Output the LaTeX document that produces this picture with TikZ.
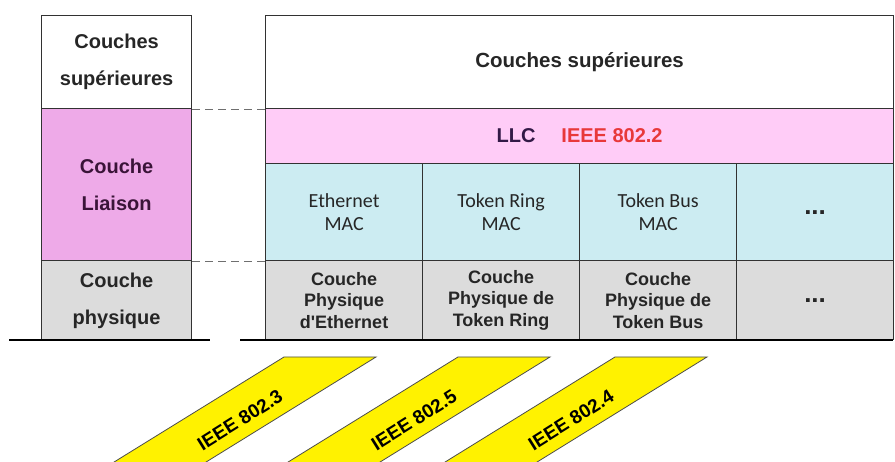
\documentclass[tikz,border=0pt]{standalone}
\usepackage{fontspec}
\setmainfont{Liberation Sans}
\newfontfamily\macfont{Carlito}

\definecolor{liaisonpink}{RGB}{238,170,232}
\definecolor{llcpink}{RGB}{255,204,247}
\definecolor{macblue}{RGB}{204,236,242}
\definecolor{phygray}{RGB}{220,220,220}
\definecolor{ieeered}{RGB}{232,56,58}
\definecolor{llctext}{RGB}{50,25,70}
\definecolor{liaisontext}{RGB}{58,20,56}
\definecolor{edge}{RGB}{50,50,50}

\tikzset{
  cell/.style={draw=edge, line width=1.2pt, anchor=north west, inner sep=0pt, align=center, text=black!85},
  leftcell/.style={cell, minimum width=150pt, font=\bfseries\fontsize{20}{37}\selectfont},
  bigcell/.style={cell, minimum width=628pt, font=\bfseries\fontsize{20.5}{24}\selectfont},
  maccell/.style={cell, fill=macblue, minimum width=157pt, minimum height=97pt, font=\macfont\fontsize{20}{23}\selectfont},
  phycell/.style={cell, fill=phygray, minimum width=157pt, minimum height=79pt, font=\bfseries\fontsize{18}{21.5}\selectfont},
  etc/.style={font=\bfseries\fontsize{26}{26}\selectfont},
  ieeeband/.style={fill=yellow, draw=black!70, line width=0.8pt},
  ieeelabel/.style={rotate=32, font=\bfseries\fontsize{19}{24}\selectfont}
}

\begin{document}
\begin{tikzpicture}[x=1pt, y=-1pt]
    \useasboundingbox (0,0) rectangle (895,462);

    % Left column: the generic layers
    \node[leftcell, minimum height=93pt] (supg) at (41,15) {Couches\\supérieures};
    \node[leftcell, fill=liaisonpink, minimum height=152pt, text=liaisontext] (liaison) at (41,108) {Couche\\Liaison};
    \node[leftcell, fill=phygray, minimum height=80pt] (physg) at (41,260) {Couche\\physique};

    % Right column: upper layers and LLC
    \node[bigcell, minimum height=93pt] (supd) at (265,15) {Couches supérieures};
    \node[bigcell, fill=llcpink, minimum height=55pt, text=llctext, font=\bfseries\fontsize{20}{24}\selectfont] (llc) at (265,108) {LLC\hspace{1.3em}\textcolor{ieeered}{IEEE 802.2}};

    % MAC sublayers
    \node[maccell] (eth) at (265,163) {Ethernet\\MAC};
    \node[maccell] (tring) at (422,163) {Token Ring\\MAC};
    \node[maccell] (tbus) at (579,163) {Token Bus\\MAC};
    \node[maccell, etc] (macetc) at (736,163) {...};

    % Physical layers
    \node[phycell] (pheth) at (265,260) {Couche\\Physique\\d\textquotesingle Ethernet};
    \node[phycell] (phtring) at (422,260) {Couche\\Physique de\\Token Ring};
    \node[phycell] (phtbus) at (579,260) {Couche\\Physique de\\Token Bus};
    \node[phycell, etc] (phetc) at (736,260) {...};

    % Dashed links between the two columns
    \draw[edge!70, line width=1.2pt, dash pattern=on 8pt off 5pt] (supg.south east) -- (supd.south west);
    \draw[edge!70, line width=1.2pt, dash pattern=on 8pt off 5pt] (liaison.south east) -- (eth.south west);

    % Ground lines
    \coordinate (solA) at (9,340);
    \coordinate (solB) at (210,340);
    \coordinate (solC) at (240,340);
    \coordinate (solD) at (893,340);
    \draw[line width=2pt] (solA) -- (solB);
    \draw[line width=2pt] (solC) -- (solD);

    % Yellow bands for the standards
    \begin{scope}
        \clip (0,0) rectangle (895,462);
        \foreach \x/\num in {284/3, 458/5, 615/4} {
            \draw[ieeeband] (\x,357) -- ++(92,0) -- ++(-199,123) -- ++(-92,0) -- cycle;
            \node[ieeelabel] (ieee\num) at (\x-44,420) {IEEE 802.\num};
        }
    \end{scope}

\end{tikzpicture}
\end{document}
